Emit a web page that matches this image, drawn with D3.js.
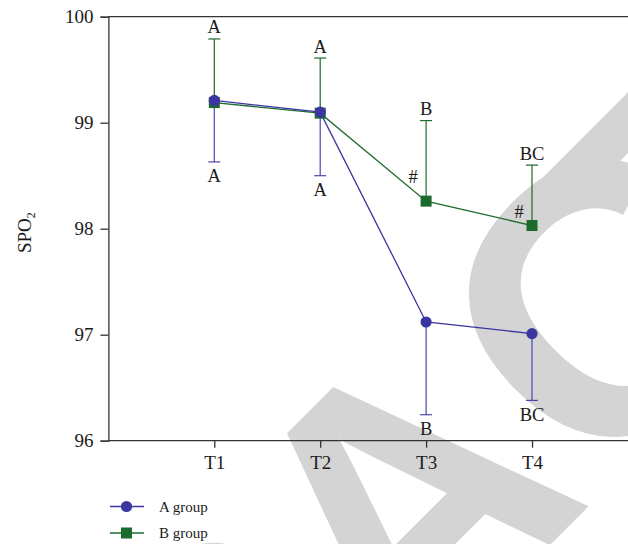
<!DOCTYPE html>
<html>
<head>
<meta charset="utf-8">
<script src="https://cdn.jsdelivr.net/npm/d3@7"></script>
<style>
  html, body { margin: 0; padding: 0; background: #fff; }
  svg { display: block; }
</style>
</head>
<body>
<svg id="chart" width="628" height="544"></svg>
<script>
// ---- data ----
const categories = ["T1", "T2", "T3", "T4"];
const groupA = [99.21, 99.10, 97.12, 97.01];      // A group means
const groupAErr = [0.58, 0.60, 0.875, 0.63];       // A group SD (drawn downward)
const groupB = [99.19, 99.09, 98.26, 98.03];      // B group means
const groupBErr = [0.60, 0.52, 0.76, 0.57];        // B group SD (drawn upward)
const lettersA = ["A", "A", "B", "BC"];
const lettersB = ["A", "A", "B", "BC"];
const hashB = [null, null, 98.43, 98.10];          // "#" annotation level (data units)
const yTicks = [96, 97, 98, 99, 100];
const seriesNames = ["A group", "B group"];

// ---- layout ----
const W = 628, H = 544;
const svg = d3.select("#chart");
const blue = "#3b36a0", green = "#1b6b2c";
const ink = "#1a1a1a";
const serif = "'Liberation Serif', 'DejaVu Serif', serif";

const x = d3.scaleLinear().domain([0, 5]).range([108.4, 637.9]);
const y = d3.scaleLinear().domain([96, 100]).range([440.7, 16.7]);

// watermark (decorative, laid out along a rotated baseline)
const wmWord = "RETRACTED";
const wm = svg.append("text")
  .attr("transform", "translate(400,500) rotate(-45)")
  .attr("dy", "0.358em")
  .attr("font-family", "'Liberation Sans', Arial, sans-serif")
  .attr("font-weight", "bold")
  .attr("font-size", 385)
  .style("font-kerning", "none")
  .attr("fill", "#d4d4d4")
  .text(wmWord);
{
  const node = wm.node();
  const adv = d3.range(wmWord.length).map(i => node.getSubStringLength(i, 1));
  const xs = new Array(wmWord.length);
  xs[4] = -adv[4] / 2;             // "A" centred on the anchor
  xs[3] = xs[4] - adv[3] + 18;
  for (let i = 2; i >= 0; i--) xs[i] = xs[i + 1] - adv[i];
  xs[5] = 144;                     // "C"
  xs[6] = 322;                     // "T"
  for (let i = 7; i < wmWord.length; i++) xs[i] = xs[i - 1] + adv[i - 1];
  wm.attr("x", xs.join(" "));
}

// frame: top line
svg.append("line")
  .attr("x1", x(0)).attr("x2", W)
  .attr("y1", y(100)).attr("y2", y(100))
  .attr("stroke", "#333").attr("stroke-width", 1.3);

// y axis
const yAxis = svg.append("g")
  .attr("transform", `translate(${x(0)},0)`)
  .call(d3.axisLeft(y).tickValues(yTicks).tickSize(8).tickPadding(7).tickFormat(d3.format("d")));
yAxis.select(".domain").attr("stroke", "#333").attr("stroke-width", 1.3);
yAxis.selectAll(".tick line").attr("stroke", "#333").attr("stroke-width", 1.3);
yAxis.selectAll(".tick text").attr("font-family", serif).attr("font-size", 19).attr("fill", ink);

// x axis
const xAxis = svg.append("g")
  .attr("transform", `translate(0,${y(96)})`)
  .call(d3.axisBottom(x).tickValues([1, 2, 3, 4]).tickSize(7).tickPadding(8)
    .tickFormat(d => categories[d - 1]));
xAxis.select(".domain").attr("d", `M${x(0)},0H${W}`).attr("stroke", "#333").attr("stroke-width", 1.3);
xAxis.selectAll(".tick line").attr("stroke", "#333").attr("stroke-width", 1.3);
xAxis.selectAll(".tick text").attr("font-family", serif).attr("font-size", 19).attr("fill", ink);

// y label
const yl = svg.append("text")
  .attr("transform", `translate(31,${(y(96) + y(100)) / 2 + 4}) rotate(-90)`)
  .attr("text-anchor", "middle")
  .attr("font-family", serif).attr("font-size", 19).attr("fill", ink);
yl.append("tspan").text("SPO");
yl.append("tspan").attr("font-size", 12).attr("dy", 4).text("2");

const idx = d3.range(categories.length);
const line = d3.line().x(i => x(i + 1));

// error bars B (up)
const ebB = svg.append("g");
idx.forEach(i => {
  const top = y(groupB[i] + groupBErr[i]);
  ebB.append("line").attr("x1", x(i + 1)).attr("x2", x(i + 1))
    .attr("y1", y(groupB[i])).attr("y2", top).attr("stroke", green).attr("stroke-width", 1.2);
  ebB.append("line").attr("x1", x(i + 1) - 6).attr("x2", x(i + 1) + 6)
    .attr("y1", top).attr("y2", top).attr("stroke", green).attr("stroke-width", 1.2);
});
// error bars A (down)
const ebA = svg.append("g");
idx.forEach(i => {
  const bot = y(groupA[i] - groupAErr[i]);
  ebA.append("line").attr("x1", x(i + 1)).attr("x2", x(i + 1))
    .attr("y1", y(groupA[i])).attr("y2", bot).attr("stroke", "#4a46ad").attr("stroke-width", 1.2);
  ebA.append("line").attr("x1", x(i + 1) - 6).attr("x2", x(i + 1) + 6)
    .attr("y1", bot).attr("y2", bot).attr("stroke", "#4a46ad").attr("stroke-width", 1.2);
});

// lines
svg.append("path").attr("d", line.y(i => y(groupB[i]))(idx))
  .attr("fill", "none").attr("stroke", green).attr("stroke-width", 1.3);
svg.append("path").attr("d", line.y(i => y(groupA[i]))(idx))
  .attr("fill", "none").attr("stroke", blue).attr("stroke-width", 1.3);

// markers
svg.selectAll(".sq").data(idx).join("rect")
  .attr("x", i => x(i + 1) - 5.5).attr("y", i => y(groupB[i]) - 5.5)
  .attr("width", 11).attr("height", 11).attr("fill", green);
svg.selectAll(".ci").data(idx).join("circle")
  .attr("cx", i => x(i + 1)).attr("cy", i => y(groupA[i])).attr("r", 5.6).attr("fill", blue);

// letters
const txt = (g) => g.attr("font-family", serif).attr("font-size", 18.5).attr("fill", ink).attr("text-anchor", "middle");
idx.forEach(i => {
  svg.append("text").call(txt)
    .attr("x", x(i + 1)).attr("y", y(groupB[i] + groupBErr[i]) - 5.5).text(lettersB[i]);
  svg.append("text").call(txt)
    .attr("x", x(i + 1)).attr("y", y(groupA[i] - groupAErr[i]) + 20.5).text(lettersA[i]);
  if (hashB[i] !== null) {
    svg.append("text").call(txt)
      .attr("x", x(i + 1) - 13).attr("y", y(hashB[i])).text("#");
  }
});

// legend
const lg = svg.append("g");
[ {c: blue, shape: "circle"}, {c: green, shape: "rect"} ].forEach((s, k) => {
  const ly = 506.5 + k * 26.5;
  lg.append("line").attr("x1", 110).attr("x2", 144).attr("y1", ly).attr("y2", ly)
    .attr("stroke", s.c).attr("stroke-width", 1.3);
  if (s.shape === "circle") {
    lg.append("circle").attr("cx", 126.5).attr("cy", ly).attr("r", 5.6).attr("fill", s.c);
  } else {
    lg.append("rect").attr("x", 121).attr("y", ly - 5.5).attr("width", 11).attr("height", 11).attr("fill", s.c);
  }
  lg.append("text").attr("x", 159).attr("y", ly + 5)
    .attr("font-family", serif).attr("font-size", 15).attr("fill", ink)
    .text(seriesNames[k]);
});
</script>
</body>
</html>
